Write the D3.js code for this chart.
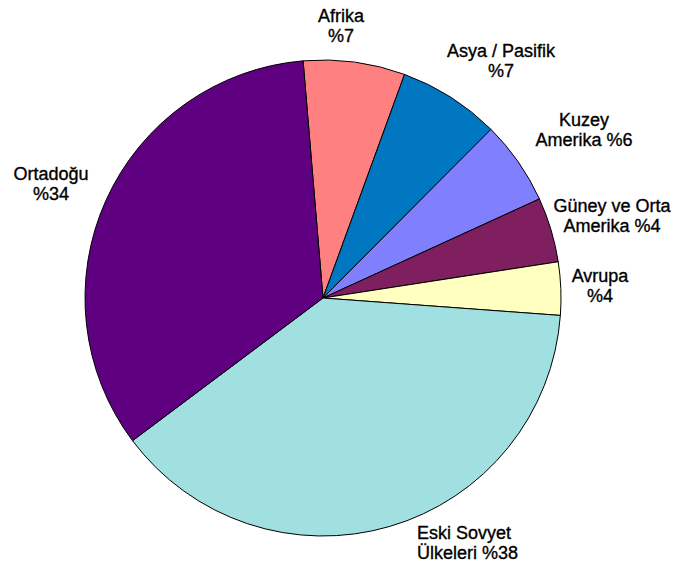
<!DOCTYPE html>
<html>
<head>
<meta charset="utf-8">
<script src="https://cdn.jsdelivr.net/npm/d3@7"></script>
<style>
  html, body { margin: 0; padding: 0; background: #fff; }
  svg { display: block; }
  .lbl { font-family: "Liberation Sans", Arial, sans-serif; font-size: 18px; fill: #000; stroke: #000; stroke-width: 0.35px; }
</style>
</head>
<body>
<div id="chart"></div>
<script>
// regions, clockwise from the top
const regions = ['Afrika', 'Asya / Pasifik', 'Kuzey Amerika', 'Güney ve Orta Amerika', 'Avrupa', 'Eski Sovyet Ülkeleri', 'Ortadoğu'];
// share in percent
const shares = [6.9, 6.9, 5.7, 4.4, 3.6, 38.6, 33.9];
// label text as printed, line by line
const labelLines = [
    ['Afrika', '%7'],
    ['Asya / Pasifik', '%7'],
    ['Kuzey', 'Amerika %6'],
    ['Güney ve Orta', 'Amerika %4'],
    ['Avrupa', '%4'],
    ['Eski Sovyet', 'Ülkeleri %38'],
    ['Ortadoğu', '%34']
];
const colors = ['#ff8080', '#0077c0', '#8080ff', '#7f1f5f', '#ffffc0', '#a0e0e0', '#5f0080'];

// where each label's first baseline sits
const labelPos = [
    { x: 341, y: 22, anchor: 'middle' },
    { x: 501, y: 57, anchor: 'middle' },
    { x: 584, y: 126, anchor: 'middle' },
    { x: 612, y: 212, anchor: 'middle' },
    { x: 600, y: 282, anchor: 'middle' },
    { x: 417, y: 539, anchor: 'start' },
    { x: 51, y: 180, anchor: 'middle' }
];

const width = 674, height = 568;
const cx = 323, cy = 298, radius = 238;
const start = -4.8 * Math.PI / 180;

const svg = d3.select('#chart').append('svg')
    .attr('width', width)
    .attr('height', height);

const pie = d3.pie()
    .sort(null)
    .value(d => d)
    .startAngle(start)
    .endAngle(start + 2 * Math.PI);

const arc = d3.arc().innerRadius(0).outerRadius(radius);

const g = svg.append('g')
    .attr('transform', `translate(${cx},${cy})`);

g.selectAll('path')
    .data(pie(shares))
    .enter()
    .append('path')
    .attr('d', arc)
    .attr('fill', (d, i) => colors[i])
    .attr('stroke', '#000')
    .attr('stroke-width', 1)
    .attr('stroke-linejoin', 'round');

const labels = svg.append('g')
    .selectAll('text')
    .data(regions)
    .enter()
    .append('text')
    .attr('class', 'lbl')
    .attr('x', (d, i) => labelPos[i].x)
    .attr('y', (d, i) => labelPos[i].y)
    .attr('text-anchor', (d, i) => labelPos[i].anchor);

labels.each(function(d, i) {
    const t = d3.select(this);
    labelLines[i].forEach((line, k) => {
        t.append('tspan')
            .attr('x', labelPos[i].x)
            .attr('dy', k === 0 ? 0 : 20)
            .text(line);
    });
});
</script>
</body>
</html>
